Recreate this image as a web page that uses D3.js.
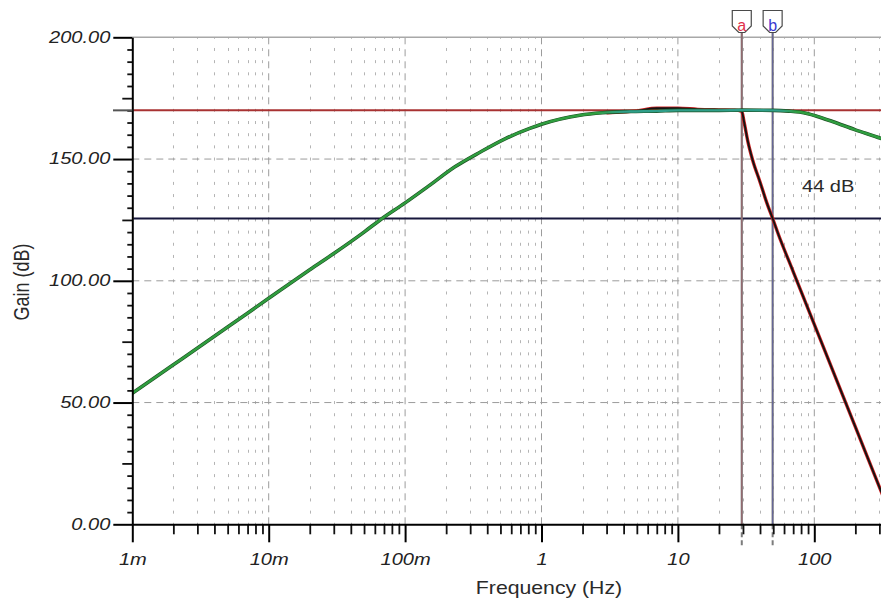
<!DOCTYPE html>
<html>
<head>
<meta charset="utf-8">
<script src="https://cdn.jsdelivr.net/npm/d3@7"></script>
<style>
  html, body { margin: 0; padding: 0; background: #fff; }
  svg { display: block; font-family: "Liberation Sans", Arial, sans-serif; }
</style>
</head>
<body>
<svg id="chart" width="881" height="600"></svg>
<script>
// Band-pass stage response (frequency in Hz, gain in dB)
const bandFreq = [0.001, 0.002, 0.005, 0.01, 0.02, 0.03, 0.05, 0.0656, 0.1, 0.152, 0.232, 0.354, 0.54, 0.82, 1.0, 1.91, 2.8, 4.45, 7, 10, 20, 30, 50, 65, 78, 90, 104, 136, 200, 307, 400];
const bandGain = [53.8, 65.5, 81.0, 92.8, 104.5, 111.2, 120.0, 125.0, 132.0, 139.3, 146.8, 152.8, 158.3, 162.6, 164.3, 168.0, 169.0, 169.5, 169.7, 170.0, 170.0, 170.1, 170.0, 169.7, 169.3, 168.6, 167.6, 165.4, 162.0, 158.5, 156.0];

// Response with the steep low-pass section added
const steepFreq = [3, 5, 7, 10, 14, 20, 26, 29.4, 30.5, 32.5, 35.3, 40, 45, 49.5, 55, 70, 100, 150, 200, 307, 350];
const steepGain = [169.0, 169.8, 170.9, 170.9, 170.4, 170.2, 170.1, 169.6, 165.5, 157.5, 149.6, 140.6, 131.8, 125.6, 118.5, 103.8, 82.1, 57.5, 40.0, 13.9, 6.0];

// Axis ticks
const decadeTicks = [0.001, 0.01, 0.1, 1, 10, 100];
const decadeLabels = ["1m", "10m", "100m", "1", "10", "100"];
const gainTicks = [0, 50, 100, 150, 200];
const gainLabels = ["0.00", "50.00", "100.00", "150.00", "200.00"];

// Cursors a / b and their level readings
const cursorFreq = [29.4, 49.5];
const cursorNames = ["a", "b"];
const cursorLetterColors = ["#e0304a", "#3a3ad0"];
const cursorTints = ["#c04a5a", "#4a4ac0"];
const levelGain = [170.0, 125.6];
const levelColors = ["#a83232", "#17173c"];

const svg = d3.select("#chart");
const plotLeft = 132.3, plotRight = 881, plotTop = 37.3, plotBottom = 524.3;
const decadePx = 136.4;
const stretch = 1.18; // horizontal widening of the label lettering

const x = d3.scaleLog().domain([1e-3, 1e3]).range([plotLeft, plotLeft + 6 * decadePx]);
const y = d3.scaleLinear().domain([0, 200]).range([plotBottom, plotTop]);

// minor frequency values 2..9 of every decade
const minorFreq = [];
for (let e = -3; e <= 2; e++) {
  for (let k = 2; k <= 9; k++) minorFreq.push(k * Math.pow(10, e));
}
const minorGain = d3.range(5, 200, 5).filter(v => v % 50 !== 0);

svg.append("defs").append("clipPath").attr("id", "plotClip")
  .append("rect").attr("x", plotLeft).attr("y", 30)
  .attr("width", plotRight - plotLeft).attr("height", plotBottom - 30);

const grid = svg.append("g").attr("clip-path", "url(#plotClip)");

// dotted minor verticals
grid.selectAll("line.minorV").data(minorFreq).join("line")
  .attr("class", "minorV")
  .attr("x1", d => Math.round(x(d)) + 0.5).attr("x2", d => Math.round(x(d)) + 0.5)
  .attr("y1", plotBottom).attr("y2", plotTop)
  .attr("stroke", "#b4b4b4").attr("stroke-width", 1)
  .attr("stroke-dasharray", "3," + (y(0) - y(5) - 3).toFixed(3))
  .attr("stroke-dashoffset", 1.5);

// dashed decade verticals
grid.selectAll("line.majorV").data(decadeTicks.slice(1)).join("line")
  .attr("class", "majorV")
  .attr("x1", d => x(d)).attr("x2", d => x(d))
  .attr("y1", plotBottom).attr("y2", plotTop)
  .attr("stroke", "#9c9c9c").attr("stroke-width", 1)
  .attr("stroke-dasharray", "7,5");

// dashed horizontals
grid.selectAll("line.majorH").data(gainTicks.filter(v => v > 0 && v < 200)).join("line")
  .attr("class", "majorH")
  .attr("x1", plotLeft).attr("x2", plotRight)
  .attr("y1", d => y(d)).attr("y2", d => y(d))
  .attr("stroke", "#9c9c9c").attr("stroke-width", 1)
  .attr("stroke-dasharray", "7,5");

// top frame
svg.append("line")
  .attr("x1", plotLeft).attr("x2", plotRight)
  .attr("y1", y(200)).attr("y2", y(200))
  .attr("stroke", "#a8a8a8").attr("stroke-width", 1.5);

// level lines of the two cursors
svg.selectAll("line.level").data(levelGain).join("line")
  .attr("class", "level")
  .attr("x1", plotLeft + 1).attr("x2", plotRight)
  .attr("y1", d => y(d)).attr("y2", d => y(d))
  .attr("stroke", (d, i) => levelColors[i]).attr("stroke-width", 2);

// cursor a / b verticals and flags
const cursors = svg.selectAll("g.cursor").data(cursorFreq).join("g").attr("class", "cursor");
cursors.append("line")
  .attr("x1", d => x(d)).attr("x2", d => x(d))
  .attr("y1", 33).attr("y2", plotBottom)
  .attr("stroke", "#7c7c7c").attr("stroke-width", 2.2);
cursors.append("line")
  .attr("x1", d => x(d)).attr("x2", d => x(d))
  .attr("y1", 33).attr("y2", plotBottom)
  .attr("stroke", (d, i) => cursorTints[i]).attr("stroke-width", 0.8).attr("opacity", 0.6);
cursors.append("line")
  .attr("x1", d => x(d)).attr("x2", d => x(d))
  .attr("y1", plotBottom).attr("y2", plotBottom + 22)
  .attr("stroke", "#7c7c7c").attr("stroke-width", 2)
  .attr("stroke-dasharray", "5,3");
cursors.append("path")
  .attr("d", d => {
    const cx = x(d);
    return `M${cx - 9.5},10.5 L${cx + 9.5},10.5 L${cx + 9.5},26 L${cx + 3},32.5 L${cx - 3},32.5 L${cx - 9.5},26 Z`;
  })
  .attr("fill", "#fff").attr("stroke", "#4a4a4a").attr("stroke-width", 1.2);
cursors.append("text")
  .attr("x", d => x(d)).attr("y", 30.5)
  .attr("text-anchor", "middle")
  .attr("font-size", 16)
  .attr("fill", (d, i) => cursorLetterColors[i])
  .text((d, i) => cursorNames[i]);

// response curves
const curves = svg.append("g").attr("clip-path", "url(#plotClip)");
const line = d3.line().x(d => x(d[0])).y(d => y(d[1])).curve(d3.curveMonotoneX);
const steepPts = d3.zip(steepFreq, steepGain);
const bandPts = d3.zip(bandFreq, bandGain);

curves.append("path").attr("d", line(steepPts))
  .attr("fill", "none").attr("stroke", "#d02222").attr("stroke-width", 3.4)
  .attr("stroke-linejoin", "round");
curves.append("path").attr("d", line(steepPts))
  .attr("fill", "none").attr("stroke", "#141414").attr("stroke-width", 1.9)
  .attr("stroke-linejoin", "round");

// green trace turns teal where it runs over the flat top of the other trace
const grad = svg.select("defs").append("linearGradient")
  .attr("id", "bandGrad").attr("gradientUnits", "userSpaceOnUse")
  .attr("x1", plotLeft).attr("x2", plotRight).attr("y1", 0).attr("y2", 0);
const gStops = [[x(2.5), "#2f9e3f"], [x(4), "#2f9f8a"], [x(55), "#2f9f8a"], [x(75), "#2f9e3f"]];
gStops.forEach(s => grad.append("stop")
  .attr("offset", ((s[0] - plotLeft) / (plotRight - plotLeft)).toFixed(4))
  .attr("stop-color", s[1]));

curves.append("path").attr("d", line(bandPts))
  .attr("fill", "none").attr("stroke", "#1d4f22").attr("stroke-width", 3.6)
  .attr("stroke-linejoin", "round");
curves.append("path").attr("d", line(bandPts))
  .attr("fill", "none").attr("stroke", "url(#bandGrad)").attr("stroke-width", 2.4)
  .attr("stroke-linejoin", "round");

// level difference readout
svg.append("text")
  .attr("transform", `translate(802,191.5) scale(${stretch},1)`)
  .attr("font-size", 17).attr("fill", "#2a2a2a")
  .text(Math.round(levelGain[0] - levelGain[1]) + " dB");

// axes
const xMinorAxis = d3.axisBottom(x).tickValues(minorFreq).tickSize(10).tickSizeOuter(0).tickFormat("");
const xAxis = d3.axisBottom(x).tickValues(decadeTicks).tickSize(18).tickSizeOuter(0)
  .tickFormat((d, i) => decadeLabels[i]);
const yMinorAxis = d3.axisLeft(y).tickValues(minorGain)
  .tickSize(0).tickSizeOuter(0).tickFormat("");
const yAxis = d3.axisLeft(y).tickValues(gainTicks).tickSize(19).tickSizeOuter(0)
  .tickFormat((d, i) => gainLabels[i]);

const gxm = svg.append("g").attr("transform", `translate(0,${plotBottom})`).call(xMinorAxis);
gxm.select(".domain").remove();
gxm.selectAll(".tick line").attr("stroke", "#111").attr("stroke-width", 1.8);

const gx = svg.append("g").attr("transform", `translate(0,${plotBottom})`).call(xAxis);
gx.select(".domain").attr("stroke", "#000").attr("stroke-width", 2);
gx.selectAll(".tick line").attr("stroke", "#000").attr("stroke-width", 2);
gx.selectAll(".tick text")
  .attr("y", 29).attr("dy", "0.71em")
  .attr("font-size", 17).attr("font-style", "italic")
  .attr("font-family", "'Liberation Sans', Arial, sans-serif")
  .attr("fill", "#222")
  .attr("transform", `scale(${stretch},1)`);

const gym = svg.append("g").attr("transform", `translate(${plotLeft},0)`).call(yMinorAxis);
gym.select(".domain").remove();
gym.selectAll(".tick line")
  .attr("x2", d => (d % 25 === 0 ? -10 : -5))
  .attr("stroke", "#111").attr("stroke-width", 1.8);

const gy = svg.append("g").attr("transform", `translate(${plotLeft},0)`).call(yAxis);
gy.select(".domain").attr("stroke", "#000").attr("stroke-width", 2);
gy.selectAll(".tick line").attr("stroke", "#000").attr("stroke-width", 2);
gy.selectAll(".tick text")
  .attr("x", -22 / stretch).attr("dy", "0.28em")
  .attr("font-size", 17).attr("font-style", "italic")
  .attr("font-family", "'Liberation Sans', Arial, sans-serif")
  .attr("fill", "#222")
  .attr("transform", `scale(${stretch},1)`);

// gray reference tick at the upper cursor level
svg.append("line")
  .attr("x1", 113).attr("x2", plotLeft)
  .attr("y1", y(levelGain[0])).attr("y2", y(levelGain[0]))
  .attr("stroke", "#555").attr("stroke-width", 2);

// axis titles
svg.append("text")
  .attr("transform", `translate(549,594) scale(${stretch},1)`)
  .attr("text-anchor", "middle")
  .attr("font-size", 18).attr("fill", "#2a2a2a")
  .text("Frequency (Hz)");
svg.append("text")
  .attr("transform", `translate(29,282) rotate(-90) scale(1,${stretch})`)
  .attr("text-anchor", "middle")
  .attr("font-size", 18).attr("fill", "#2a2a2a")
  .text("Gain (dB)");
</script>
</body>
</html>
